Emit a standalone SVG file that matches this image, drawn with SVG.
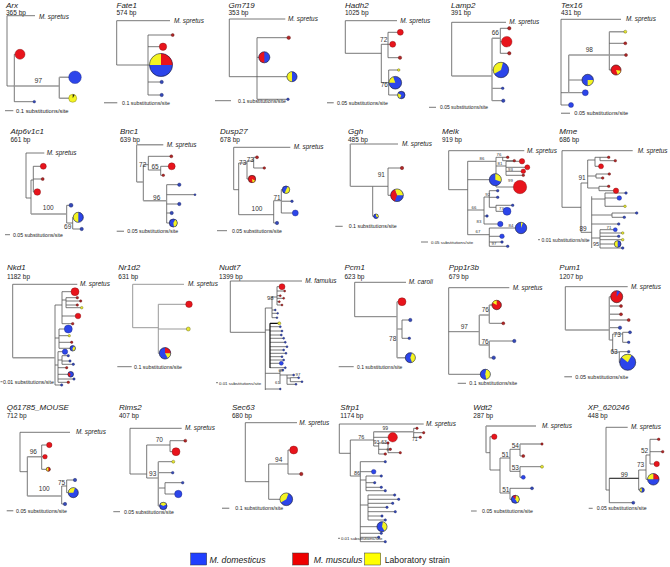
<svg xmlns="http://www.w3.org/2000/svg" width="670" height="567" viewBox="0 0 670 567">
<style>
text{font-family:"Liberation Sans",Arial,sans-serif;fill:#222}
.ti{font-size:8px;font-style:italic}
.bp{font-size:6.5px}
.sp{font-size:6.4px;font-style:italic}
.bs{font-size:6.5px;text-anchor:middle;fill:#333}
.bt{font-size:4.3px;text-anchor:middle;fill:#333}
.sc{font-size:5.3px}
.ln{fill:none;stroke:#555;stroke-width:.8}
.lg{fill:none;stroke:#999;stroke-width:1.4}
.R{fill:#e8141c;stroke:#7a1010;stroke-width:.4}
.B{fill:#2c45ea;stroke:#1a237a;stroke-width:.4}
.Y{fill:#f4f422;stroke:#6a6a10;stroke-width:.4}
.r{fill:#b02626;stroke:#5a1010;stroke-width:.4}
.b{fill:#3448b8;stroke:#1a2460;stroke-width:.4}
.y{fill:#e8e830;stroke:#555510;stroke-width:.4}
.wy{fill:#f4f422}.wr{fill:#e8141c}.wb{fill:#2c45ea}.wk{fill:#222}
.o{fill:none;stroke:#222;stroke-width:.4}
.lt{font-size:8.7px}
</style>

<!-- Row 1 -->
<g id="arx">
<text class="ti" x="6" y="8">Arx</text><text class="bp" x="6" y="15">365 bp</text>
<path class="ln" d="M7,15.7V86M7,15.7H35M7,86H14.3M14.3,54.3V101.7M14.3,54.3H20M14.3,101.7H34"/>
<path class="lg" d="M14.3,86H59.3M59.3,77.3V98.3M59.3,77.3H75M59.3,98.3H72.7"/>
<text class="sp" x="39" y="18.5">M. spretus</text>
<text class="bs" x="38.3" y="82.5" style="font-size:7px">97</text>
<circle class="R" cx="20" cy="54.3" r="5"/><circle class="b" cx="34.3" cy="101.7" r="1.3"/>
<circle class="B" cx="75" cy="77.3" r="6.3"/>
<circle class="Y" cx="72.7" cy="98.3" r="4"/><path class="wk" d="M72.7,98.3L72.7,94.3A4 4 0 0 1 74.7,94.84Z"/>
<path class="ln" d="M5,110.7H13.3"/><text class="sc" x="16" y="112.5" style="font-size:5.8px">0.1 substitutions/site</text>
</g>

<g id="fate1">
<text class="ti" x="116.5" y="7.5">Fate1</text><text class="bp" x="116.5" y="15">574 bp</text>
<path class="ln" d="M116.7,20.7V65M116.7,20.7H170M116.7,65H148M148,35V95M148,35H172.7M148,46.7H163M148,65H161M148,82H161.7M148,95H161.7"/>
<text class="sp" x="174" y="22.5">M. spretus</text>
<circle class="r" cx="172.7" cy="35" r="1.5"/><circle class="R" cx="163" cy="46.7" r="3.7"/>
<circle class="B" cx="161" cy="65" r="11.5"/>
<path class="wr" d="M161,65L161,53.5A11.5 11.5 0 0 1 172.5,65Z"/><path class="wy" d="M161,65L149.5,65A11.5 11.5 0 0 1 161,53.5Z"/>
<circle class="o" cx="161" cy="65" r="11.5"/>
<circle class="b" cx="161.7" cy="82" r="1.7"/><circle class="b" cx="161.7" cy="95" r="1.7"/>
<path class="lg" d="M104,102.7H117.3"/><text class="sc" x="122" y="104.5">0.1 substitutions/site</text>
</g>

<g id="gm719">
<text class="ti" x="228.5" y="7.5">Gm719</text><text class="bp" x="228.5" y="15">353 bp</text>
<path class="ln" d="M229.3,19V76.7M229.3,19H285.3M229.3,76.7H292M257,37.7V99.3M257,37.7H288.7M257,57.3H264.3M257,99.3H288"/>
<text class="sp" x="288" y="21">M. spretus</text>
<circle class="r" cx="288.7" cy="37.7" r="1.8"/>
<circle class="B" cx="264.3" cy="57.3" r="5.5"/><path class="wr" d="M264.3,57.3L264.3,62.8A5.5 5.5 0 0 1 264.3,51.8Z"/><circle class="o" cx="264.3" cy="57.3" r="5.5"/>
<circle class="B" cx="292" cy="76.7" r="5"/><path class="wy" d="M292,76.7L292,81.7A5 5 0 0 1 292,71.7Z"/><circle class="o" cx="292" cy="76.7" r="5"/>
<circle class="b" cx="288" cy="99.3" r="1.3"/>
<path class="ln" d="M215,100.7H231"/><text class="sc" x="238" y="102.5">0.1 substitutions/site</text>
</g>

<g id="hadh2">
<text class="ti" x="345" y="7.5">Hadh2</text><text class="bp" x="345" y="15">1025 bp</text>
<path class="ln" d="M345.3,20.7V53.3M345.3,20.7H397M345.3,53.3H381.3M381.3,44.3V82.7M381.3,44.3H388M388,32.3V57.7M388,32.3H400.3M388,44.3H392.7M388,57.7H400M381.3,82.7H388.7M388.7,70V95M388.7,70H398.7M388.7,82.7H395.3M388.7,95H401.3"/>
<text class="sp" x="400.3" y="22.5">M. spretus</text>
<text class="bs" x="383.7" y="41.5">72</text><text class="bs" x="384.3" y="86.5">76</text>
<circle class="R" cx="400.3" cy="32.3" r="3"/><circle class="R" cx="392.7" cy="44.3" r="3"/><circle class="r" cx="400" cy="57.7" r="1.7"/>
<circle class="y" cx="398.7" cy="70" r="1.3"/>
<circle class="B" cx="395.3" cy="82.7" r="6.3"/><path class="wy" d="M395.3,82.7L389,82.7A6.3 6.3 0 0 1 393.15,76.78Z"/><circle class="o" cx="395.3" cy="82.7" r="6.3"/>
<circle class="B" cx="401.3" cy="95" r="3.7"/><path class="wy" d="M401.3,95L400.03,98.48A3.7 3.7 0 0 1 398.1,93.15Z"/><circle class="o" cx="401.3" cy="95" r="3.7"/>
<path class="lg" d="M327,102.7H333.7"/><text class="sc" x="337" y="104.5">0.05 substitutions/site</text>
</g>

<g id="lamp2">
<text class="ti" x="451" y="7.5">Lamp2</text><text class="bp" x="451" y="15">391 bp</text>
<path class="ln" d="M451.7,22.3V76M451.7,22.3H506M500.3,28.3V53.3M500.3,28.3H509.3M500.3,41.7H506.7M500.3,53.3H509.3M492,88.3H502.7M492,100.7H503.3"/>
<path class="lg" d="M451.7,76H492M492,38.3V100.7M492,38.3H500.3M492,70H501"/>
<text class="sp" x="509.3" y="24">M. spretus</text>
<text class="bs" x="495.3" y="35">66</text>
<circle class="r" cx="509.3" cy="28.3" r="1.7"/><circle class="R" cx="506.7" cy="41.7" r="5.3"/><circle class="r" cx="509.3" cy="53.3" r="1.7"/>
<circle class="B" cx="501" cy="70" r="7.7"/><path class="wy" d="M501,70L494.33,73.85A7.7 7.7 0 0 1 502.99,62.56Z"/><circle class="o" cx="501" cy="70" r="7.7"/>
<circle class="b" cx="502.7" cy="88.3" r="1.3"/><circle class="b" cx="503.3" cy="100.7" r="1.7"/>
<path class="ln" d="M429,107.3H436"/><text class="sc" x="440" y="109" style="font-size:5px">0.05 substitutions/site</text>
</g>

<g id="tex16">
<text class="ti" x="561" y="7.5">Tex16</text><text class="bp" x="561" y="15">431 bp</text>
<path class="ln" d="M561,19.3V105M561,19.3H621M561,105H571M561,92.7H568.7M568.7,92.7H585.3M568.7,80H587.7M609.3,31.7V70M609.3,43.3H625.3M609.3,70H616"/>
<path class="lg" d="M568.7,55V92.7M568.7,55H626M609.3,31.7H625.3"/>
<text class="sp" x="626" y="21">M. spretus</text>
<text class="bs" x="589.3" y="52">98</text>
<circle class="B" cx="571" cy="105" r="2.5"/><circle class="B" cx="585.3" cy="92.7" r="3"/>
<circle class="B" cx="587.7" cy="80" r="5.7"/><path class="wy" d="M587.7,80L593.4,80A5.7 5.7 0 0 1 587.7,85.7Z"/><circle class="o" cx="587.7" cy="80" r="5.7"/>
<circle class="r" cx="626" cy="55" r="1.5"/><circle class="y" cx="625.3" cy="31.7" r="1.5"/><circle class="r" cx="625.3" cy="43.3" r="1.5"/>
<circle class="R" cx="616" cy="70" r="5"/><path class="wy" d="M616,70L620.92,70.87A5 5 0 0 1 617.71,74.7Z"/><circle class="o" cx="616" cy="70" r="5"/>
<path class="lg" d="M561,113.3H570"/><text class="sc" x="574.3" y="115" style="font-size:5.6px">0.05 substitutions/site</text>
</g>

<!-- Row 2 -->
<g id="atp6v1c1">
<text class="ti" x="10.5" y="133.5">Atp6v1c1</text><text class="bp" x="10.5" y="142">661 bp</text>
<path class="ln" d="M26,153V198M26,153H44.3M26,198H31M31,180V214M31,180H33.3M33.3,166.3V192M33.3,166.3H43.3M33.3,179H42.7M33.3,192H37.3M66.7,205.3V223M66.7,205.3H71M66.7,223H72.7M72.7,217.3V229M72.7,217.3H78.3M72.7,229H81.7"/>
<path class="lg" d="M31,214H66.7"/>
<text class="sp" x="46.7" y="155">M. spretus</text>
<text class="bs" x="48.3" y="210">100</text><text class="bs" x="67.7" y="228.5">69</text>
<circle class="R" cx="43.3" cy="166.3" r="3"/><circle class="r" cx="42.7" cy="179" r="1.5"/><circle class="R" cx="37.3" cy="192" r="3.3"/>
<circle class="b" cx="71" cy="205.3" r="2"/>
<circle class="B" cx="78.3" cy="217.3" r="5"/><path class="wy" d="M78.3,217.3L78.3,222.3A5 5 0 0 1 78.3,212.3Z"/><circle class="o" cx="78.3" cy="217.3" r="5"/>
<circle class="b" cx="81.7" cy="229" r="1.7"/>
<path class="ln" d="M5,234.7H10"/><text class="sc" x="13" y="236.5" style="font-size:5.2px">0.05 substitutions/site</text>
</g>

<g id="bnc1">
<text class="ti" x="120" y="133.5">Bnc1</text><text class="bp" x="120" y="142">639 bp</text>
<path class="ln" d="M136.7,144.7V182M143.3,164.7V200.7M143.3,164.7H148.3M148.3,156.3V170M148.3,156.3H171.3M148.3,170H160.7M160.7,166.3V175.3M160.7,166.3H171.7M160.7,175.3H163.3M166.7,184.7V223M166.7,184.7H179.3M166.7,194.7H195M166.7,204H179.3M166.7,213H171.7M166.7,223H173.3"/>
<path class="lg" d="M136.7,144.7H163.3M136.7,182H143.3M143.3,200.7H166.7"/>
<text class="sp" x="166.7" y="146.5">M. spretus</text>
<text class="bs" x="142.7" y="167">72</text><text class="bs" x="155" y="168.5">65</text><text class="bs" x="156.7" y="200">96</text>
<circle class="r" cx="171.3" cy="156.3" r="1.5"/><circle class="R" cx="171.7" cy="166.3" r="3.5"/><circle class="r" cx="163.3" cy="175.3" r="1.3"/>
<circle class="b" cx="179.3" cy="184.7" r="1.7"/><circle class="b" cx="195" cy="194.7" r="1"/><circle class="b" cx="179.3" cy="204" r="1.7"/><circle class="b" cx="171.7" cy="213" r="1.7"/>
<circle class="B" cx="173.3" cy="223" r="4"/><path class="wy" d="M173.3,223L175.3,219.54A4 4 0 0 1 174,226.94Z"/><circle class="o" cx="173.3" cy="223" r="4"/>
<path class="lg" d="M116.7,231.3H124"/><text class="sc" x="127.3" y="233">0.05 substitutions/site</text>
</g>

<g id="dusp27">
<text class="ti" x="220" y="133.5">Dusp27</text><text class="bp" x="220" y="142">678 bp</text>
<path class="ln" d="M233.7,147.3V189.7M233.7,147.3H290.3M233.7,189.7H238.7M238.7,163V214.7M238.7,163H247M247,161V179M247,161H253.7M253.7,157.3V168M253.7,157.3H257M253.7,168H264.3M247,179H252M238.7,214.7H273.7M273.7,200.7V223M273.7,200.7H281.3M281.3,189.7V213M281.3,189.7H286M281.3,213H295.3M273.7,223H277"/>
<path class="lg" d="M281.3,201.3H292"/>
<text class="sp" x="293.7" y="149">M. spretus</text>
<text class="bs" x="242.7" y="165">73</text><text class="bs" x="250.3" y="161.5">73</text><text class="bs" x="257" y="210.5">100</text><text class="bs" x="277" y="200">71</text>
<circle class="r" cx="257" cy="157.3" r="1.5"/><circle class="r" cx="264.3" cy="168" r="1.3"/>
<circle class="R" cx="252" cy="179" r="3.7"/><path class="wy" d="M252,179L255.2,180.85A3.7 3.7 0 0 1 252.64,182.64Z"/><circle class="o" cx="252" cy="179" r="3.7"/>
<circle class="B" cx="286" cy="189.7" r="3.7"/><path class="wy" d="M286,189.7L287.85,186.5A3.7 3.7 0 0 1 284.73,193.18Z"/><circle class="o" cx="286" cy="189.7" r="3.7"/>
<circle class="b" cx="292" cy="201.3" r="1.3"/><circle class="B" cx="295.3" cy="213" r="3"/><circle class="b" cx="277" cy="223" r="1.7"/>
<path class="ln" d="M217,230.7H227"/><text class="sc" x="232" y="232.5" style="font-size:5.2px">0.05 substitutions/site</text>
</g>

<g id="ggh">
<text class="ti" x="348" y="133.5">Ggh</text><text class="bp" x="348" y="142">485 bp</text>
<path class="ln" d="M350.3,144H398M350.3,186.3H372.7M372.7,186.3V216.3M372.7,186.3H388M388,168V195.3M388,168H402M388,195.3H397M372.7,216.3H376"/>
<path class="lg" d="M350.3,144V186.3"/>
<text class="sp" x="402" y="146">M. spretus</text>
<text class="bs" x="381.3" y="177">91</text>
<circle class="r" cx="402" cy="168" r="1.7"/>
<circle class="B" cx="397" cy="195.3" r="6.3"/><path class="wy" d="M397,195.3L394.85,189.38A6.3 6.3 0 0 1 403.3,195.3Z"/><path class="wr" d="M397,195.3L394.85,201.22A6.3 6.3 0 0 1 394.85,189.38Z"/><circle class="o" cx="397" cy="195.3" r="6.3"/>
<circle class="B" cx="376" cy="216.3" r="2.3"/><path class="wy" d="M376,216.3L376,214A2.3 2.3 0 0 1 377.99,217.45Z"/><circle class="o" cx="376" cy="216.3" r="2.3"/>
<path class="ln" d="M335.3,226.3H342.7"/><text class="sc" x="348.7" y="228">0.1 substitutions/site</text>
</g>

<g id="melk">
<text class="ti" x="442" y="133.5">Melk</text><text class="bp" x="442" y="142">919 bp</text>
<path class="ln" d="M448.7,150.7V189.7M448.7,150.7H524.3M448.7,189.7H467.7M467.7,161.3V234.7M467.7,161.3H496M496,157.3V187M496,157.3H507.7M502.7,157.3V160.7H514.3M496,166H506M506,161.3V175.3M506,161.3H522M506,167.3H527.3M506,171.3H523.3M506,175.3H523.3M496,187H520M467.7,179.7H495.3M467.7,210H484M484,197V224M484,197H489.3M489.3,190.7V207.3M489.3,190.7H497.7M489.3,197.3H497.7M489.3,207.3H496M496,205.3V211.3M496,205.3H512.7M496,211.3H507M484,216H487M484,224H500.3M467.7,234.7H489.3M489.3,228V246.3M489.3,228H521M489.3,236.3H502M489.3,242H502M489.3,246.3H507.7"/>
<text class="sp" x="527" y="152.5">M. spretus</text>
<text class="bt" x="482" y="160">86</text><text class="bt" x="499" y="156">76</text><text class="bt" x="500" y="165">81</text><text class="bt" x="510.5" y="170.5">93</text><text class="bt" x="510.5" y="182">99</text>
<text class="bt" x="487.7" y="196">92</text><text class="bt" x="474" y="209">66</text><text class="bt" x="501.5" y="210">73</text><text class="bt" x="479" y="223">83</text><text class="bt" x="478" y="233">67</text><text class="bt" x="511" y="227">84</text><text class="bt" x="494" y="245">97</text>
<circle class="r" cx="507.7" cy="157.3" r="1.3"/><circle class="r" cx="514.3" cy="160.7" r="1.3"/>
<circle class="R" cx="522" cy="161.3" r="2.7"/><circle class="R" cx="527.3" cy="167.3" r="2.5"/><circle class="R" cx="523.3" cy="171.3" r="2.3"/><circle class="r" cx="523.3" cy="175.3" r="1.3"/>
<circle class="R" cx="520" cy="187" r="6.7"/>
<circle class="B" cx="495.3" cy="179.7" r="6"/><path class="wy" d="M495.3,179.7L495.3,173.7A6 6 0 0 1 500.94,181.75Z"/><circle class="o" cx="495.3" cy="179.7" r="6"/>
<circle class="b" cx="497.7" cy="190.7" r="1.3"/><circle class="b" cx="497.7" cy="197.3" r="1.3"/><circle class="b" cx="512.7" cy="205.3" r="1.3"/>
<circle class="B" cx="507" cy="211.3" r="4"/><circle class="b" cx="487" cy="216" r="1.3"/><circle class="B" cx="500.3" cy="224" r="2.7"/>
<circle class="B" cx="521" cy="228" r="5.7"/><path class="wy" d="M521,228L521,222.3A5.7 5.7 0 0 1 522.95,222.64Z"/><circle class="o" cx="521" cy="228" r="5.7"/>
<circle class="B" cx="502" cy="236.3" r="2.3"/><circle class="b" cx="502" cy="242" r="1.3"/><circle class="b" cx="507.7" cy="246.3" r="1.3"/>
<path class="ln" d="M421,242H428"/><text class="sc" x="431" y="243.8" style="font-size:4.4px">0.05 substitutions/site</text>
</g>

<g id="mme">
<text class="ti" x="559.3" y="133.5">Mme</text><text class="bp" x="559.3" y="142">686 bp</text>
<path class="ln" d="M562,150.7V207.3M562,150.7H632.7M562,207.3H581M581,183V232.3M581,183H587.7M587.7,160V188M587.7,160H595M595,157.3V166.3M595,157.3H608.7M600,157.3V160.7H615.3M595,166.3H601M587.7,176H596M596,174V178M596,174H609.3M596,178H602.7M587.7,188H599M599,186.3V190.7M599,186.3H608.7M599,190.7H616M581,232.3H591.7M591.7,196.3V248M591.7,199H605M605,193V206.3M605,193H626M605,198H619.3M605,206.3H625M591.7,215H612M612,213V217.3M612,213H636.7M612,217.3H624.3M591.7,224H618.7M591.7,238H600M600,229.7V248M600,229.7H615.3M600,233H622.7M600,236.3H618.7M600,239.7H622.7M600,244H617.7M600,248H622.7"/>
<text class="sp" x="637.7" y="152.5">M. spretus</text>
<text class="bs" x="582" y="179.5">91</text><text class="bs" x="583" y="230.5">89</text><text class="bs" x="596" y="245.5" style="font-size:5.5px">95</text><text class="bt" x="609" y="228.5">71</text>
<circle class="r" cx="608.7" cy="157.3" r="1.3"/><circle class="r" cx="615.3" cy="160.7" r="1.3"/><circle class="R" cx="601" cy="166.3" r="2.5"/>
<circle class="r" cx="609.3" cy="174" r="1.3"/><circle class="r" cx="602.7" cy="178" r="1.3"/><circle class="r" cx="608.7" cy="186.3" r="1.3"/><circle class="R" cx="616" cy="190.7" r="2.7"/>
<circle class="b" cx="626" cy="193" r="1.3"/><circle class="B" cx="619.3" cy="198" r="2.3"/><circle class="y" cx="625" cy="206.3" r="1.3"/>
<circle class="b" cx="636.7" cy="213" r="1.3"/><circle class="b" cx="624.3" cy="217.3" r="1.3"/><circle class="b" cx="618.7" cy="224" r="1.3"/>
<circle class="B" cx="615.3" cy="229.7" r="2"/><circle class="y" cx="622.7" cy="233" r="1.3"/><circle class="b" cx="618.7" cy="236.3" r="1.3"/><circle class="y" cx="622.7" cy="239.7" r="1.3"/>
<circle class="B" cx="617.7" cy="244" r="3.3"/><path class="wy" d="M617.7,244L617.7,247.3A3.3 3.3 0 0 1 617.7,240.7Z"/><circle class="o" cx="617.7" cy="244" r="3.3"/>
<circle class="b" cx="622.7" cy="248" r="1.3"/>
<path class="ln" d="M538,239.7H540"/><text class="sc" x="541.5" y="241.5" style="font-size:5px">0.01 substitutions/site</text>
</g>

<!-- Row 3 -->
<g id="nkd1">
<text class="ti" x="7" y="270">Nkd1</text><text class="bp" x="7" y="279">1182 bp</text>
<path class="ln" d="M12.7,284.3V357.7M12.7,284.3H77.3M55,305V385M55,305H62M62,291.7V323.7M62,291.7H75M62,300H66M66,297.7V307.7M66,297.7H77.3M66,301H80.7M66,305H77.3M66,307.7H81.7M62,316H78M62,323.7H72.7M55,338H59M59,329V348.3M59,329H68.3M59,335.7H69.3M59,342.3H71.7M59,348.3H72.7M55,365H58M58,351.7V382.3M58,351.7H65M58,360H62M62,355.7V364.3M62,355.7H68.3M62,361H70M62,364.3H73.3M58,367.7H66.7M58,374.3H70.7M58,379H74M58,382.3H68.3M55,385H61.7"/>
<path class="lg" d="M12.7,357.7H55"/>
<text class="sp" x="80" y="286">M. spretus</text>
<circle class="R" cx="75" cy="291.7" r="4"/><circle class="r" cx="77.3" cy="297.7" r="1.3"/><circle class="r" cx="80.7" cy="301" r="1.2"/><circle class="r" cx="77.3" cy="305" r="1.2"/><circle class="y" cx="81.7" cy="307.7" r="1.3"/>
<circle class="R" cx="78" cy="316" r="2.8"/><circle class="r" cx="72.7" cy="323.7" r="1.3"/>
<circle class="B" cx="68.3" cy="329" r="4"/><circle class="y" cx="69.3" cy="335.7" r="1.2"/><circle class="r" cx="71.7" cy="342.3" r="1.2"/>
<circle class="B" cx="72.7" cy="348.3" r="2.7"/><path class="wy" d="M72.7,348.3L74.05,345.96A2.7 2.7 0 0 1 72.7,351Z"/><circle class="o" cx="72.7" cy="348.3" r="2.7"/>
<circle class="B" cx="65" cy="351.7" r="2.7"/><circle class="b" cx="68.3" cy="355.7" r="1.2"/><circle class="b" cx="70" cy="361" r="1.2"/><circle class="b" cx="73.3" cy="364.3" r="1.2"/>
<circle class="r" cx="66.7" cy="367.7" r="1.2"/>
<circle class="B" cx="70.7" cy="374.3" r="2.8"/><path class="wr" d="M70.7,374.3L69.74,376.93A2.8 2.8 0 0 1 68.9,372.15Z"/><circle class="o" cx="70.7" cy="374.3" r="2.8"/>
<circle class="b" cx="74" cy="379" r="1.2"/><circle class="r" cx="68.3" cy="382.3" r="1.3"/><circle class="b" cx="61.7" cy="385" r="1.2"/>
<path class="ln" d="M0.5,381.7H2.5"/><text class="sc" x="3" y="383.5">0.01 substitutions/site</text>
</g>

<g id="nr1d2">
<text class="ti" x="118.3" y="270">Nr1d2</text><text class="bp" x="118.3" y="279">631 bp</text>
<path class="lg" d="M132.7,284.3V327.7M132.7,284.3H184M132.7,327.7H158.3M158.3,304.3V353.3M158.3,304.3H189M158.3,329H188.3M158.3,353.3H165" style="stroke-width:1"/>
<text class="sp" x="188" y="286">M. spretus</text>
<circle class="R" cx="189" cy="304.3" r="3.3"/><circle class="y" cx="188.3" cy="329" r="2"/>
<circle class="B" cx="165" cy="353.3" r="5.7"/><path class="wr" d="M165,353.3L165,347.6A5.7 5.7 0 0 1 170.7,353.3Z"/><path class="wy" d="M165,353.3L170.7,353.3A5.7 5.7 0 0 1 167.85,358.24Z"/><circle class="o" cx="165" cy="353.3" r="5.7"/>
<path class="ln" d="M117.3,366.7H131.7"/><text class="sc" x="134" y="368.5">0.1 substitutions/site</text>
</g>

<g id="nudt7">
<text class="ti" x="219" y="270">Nudt7</text><text class="bp" x="219" y="279">1399 bp</text>
<path class="ln" d="M230.3,281V332.3M230.3,281H302M230.3,332.3H265.3M265.3,308V390M265.3,308H272M272,297V317.7M272,297H277M277,286.7V305M277,286.7H282M277,291H284.7M277,295.7H280.3M277,298.3H283.7M277,301.7H279.3M277,305H282M272,310H275.3M272,313.3H277.7M272,317.7H277M265.3,330H270M270,326.7H280.3M270,331H282M270,335H281.3M270,338.3H283.7M270,342.3H285.3M270,346.7H287M270,350H283.7M270,353.3H286M270,356.7H282M270,360H283.7M270,363.3H281.3M270,367.7H285.3M265.3,373.3H280M280,370V384M280,375H287M287,375V384.3M287,375H293.7M287,378H290.3M290.3,377.7V381.7M290.3,377.7H298.7M290.3,381.7H302M287,384.3H296M280,370H283M265.3,389H280.3"/>
<path class="ln" d="M270,323.3V368M270,323.3H279.3" style="stroke:#111;stroke-width:1.2"/>
<text class="sp" x="305.3" y="283">M. famulus</text>
<text class="bs" x="270.3" y="300.3" style="font-size:6px">98</text><text class="bt" x="281" y="371.5">68</text><text class="bt" x="277.5" y="383.5">61</text><text class="bt" x="298" y="376">97</text>
<circle class="R" cx="282" cy="286.7" r="3"/><circle class="r" cx="284.7" cy="291" r="1"/><circle class="r" cx="280.3" cy="295.7" r="1"/><circle class="r" cx="283.7" cy="298.3" r="1"/><circle class="r" cx="279.3" cy="301.7" r="1"/><circle class="r" cx="282" cy="305" r="1"/>
<circle class="b" cx="275.3" cy="310" r="0.9"/><circle class="b" cx="277.7" cy="313.3" r="0.9"/><circle class="b" cx="277" cy="317.7" r="0.9"/>
<circle class="y" cx="279.3" cy="323.3" r="1.5"/>
<circle class="b" cx="280.3" cy="326.7" r="1"/><circle class="b" cx="282" cy="331" r="1"/><circle class="b" cx="281.3" cy="335" r="1"/><circle class="b" cx="283.7" cy="338.3" r="1"/><circle class="b" cx="285.3" cy="342.3" r="1"/><circle class="b" cx="287" cy="346.7" r="1"/><circle class="b" cx="283.7" cy="350" r="1"/><circle class="b" cx="286" cy="353.3" r="1"/><circle class="b" cx="282" cy="356.7" r="1"/><circle class="b" cx="283.7" cy="360" r="1"/><circle class="B" cx="281.3" cy="363.3" r="2"/><circle class="b" cx="285.3" cy="367.7" r="1"/>
<circle class="b" cx="283" cy="370" r="0.9"/><circle class="b" cx="293.7" cy="375" r="1"/><circle class="b" cx="298.7" cy="377.7" r="1"/><circle class="b" cx="302" cy="381.7" r="1"/><circle class="b" cx="296" cy="384.3" r="1"/><circle class="b" cx="280.3" cy="389" r="0.9"/>
<path class="ln" d="M216,382.7H218"/><text class="sc" x="219" y="384.5" style="font-size:4.4px">0.01 substitutions/site</text>
</g>

<g id="pcm1">
<text class="ti" x="344.5" y="270">Pcm1</text><text class="bp" x="344.5" y="279">623 bp</text>
<path class="ln" d="M354.7,282.3V316.7M354.7,282.3H406M354.7,316.7H397M397,329H402M402,320V338.3M402,320H410.3M402,338.3H409.3"/>
<path class="lg" d="M397,301.7V357.7M397,301.7H402M397,357.7H410.3"/>
<text class="sp" x="408.7" y="284">M. caroli</text>
<text class="bs" x="392.7" y="341">78</text>
<circle class="R" cx="402" cy="301.7" r="4"/><circle class="b" cx="410.3" cy="320" r="1.7"/><circle class="b" cx="409.3" cy="338.3" r="1.3"/>
<circle class="B" cx="410.3" cy="357.7" r="5"/><path class="wy" d="M410.3,357.7L412.01,353A5 5 0 0 1 412.01,362.4Z"/><circle class="o" cx="410.3" cy="357.7" r="5"/>
<path class="ln" d="M338.7,366.7H353.7"/><text class="sc" x="357" y="368.5" style="font-size:5px">0.1 substitutions/site</text>
</g>

<g id="ppp1r3b">
<text class="ti" x="448.7" y="270">Ppp1r3b</text><text class="bp" x="448.7" y="279">679 bp</text>
<path class="ln" d="M448.7,287.7V374.3M448.7,287.7H509.3M448.7,331.7H479.3M489.3,323.3H503.3M489.3,341H514.3M448.7,374.3H485.3"/>
<path class="lg" d="M479.3,315V345M479.3,315H489.3M489.3,305V323.3M489.3,305H496.7M479.3,345H489.3M489.3,341V357.7M489.3,357.7H493.7"/>
<text class="sp" x="512.7" y="289.5">M. spretus</text>
<text class="bs" x="464.3" y="329.3">97</text><text class="bs" x="485.3" y="312.3">76</text><text class="bs" x="485" y="344">76</text>
<circle class="R" cx="496.7" cy="305" r="4.7"/><path class="wy" d="M496.7,305L492.63,302.65A4.7 4.7 0 0 1 496.7,300.3Z"/><circle class="o" cx="496.7" cy="305" r="4.7"/>
<circle class="r" cx="503.3" cy="323.3" r="1.5"/><circle class="b" cx="514.3" cy="341" r="1.7"/><circle class="b" cx="493.7" cy="357.7" r="1.8"/>
<circle class="B" cx="485.3" cy="374.3" r="5"/><path class="wy" d="M485.3,374.3L486.17,369.38A5 5 0 0 1 486.17,379.22Z"/><circle class="o" cx="485.3" cy="374.3" r="5"/>
<path class="ln" d="M457.7,383.3H466"/><text class="sc" x="469.3" y="385">0.1 substitutions/site</text>
</g>

<g id="pum1">
<text class="ti" x="559.3" y="270">Pum1</text><text class="bp" x="559.3" y="279">1207 bp</text>
<path class="ln" d="M565.3,286.7V330M565.3,286.7H627.7M609.3,296.7H616.7M609.3,327.7H620M609.3,340H612.7M612.7,334V352M612.7,334H622.7M622.7,332.3V342.3M622.7,332.3H630M622.7,342.3H628.7M612.7,352H619.3M619.3,351.7V362.3M619.3,351.7H628.7M619.3,362.3H627.7"/>
<path class="lg" d="M565.3,330H609.3M609.3,296.7V340M609.3,306H621M609.3,314.3H621M609.3,320H628.7"/>
<text class="sp" x="631" y="288.5">M. spretus</text>
<text class="bs" x="617.2" y="336.5">73</text><text class="bs" x="614" y="353.5">63</text>
<circle class="R" cx="616.7" cy="296.7" r="6"/><path class="wb" d="M616.7,296.7L616.7,290.7A6 6 0 0 1 620.14,291.79Z"/><circle class="o" cx="616.7" cy="296.7" r="6"/>
<circle class="r" cx="621" cy="306" r="1.5"/><circle class="r" cx="621" cy="314.3" r="1.5"/><circle class="r" cx="628.7" cy="320" r="1.5"/><circle class="b" cx="620" cy="327.7" r="1.7"/>
<circle class="b" cx="630" cy="332.3" r="1.5"/><circle class="b" cx="628.7" cy="342.3" r="1.3"/><circle class="b" cx="628.7" cy="351.7" r="1.3"/>
<circle class="B" cx="627.7" cy="362.3" r="8"/><path class="wy" d="M627.7,362.3L621.57,357.16A8 8 0 0 1 631.7,355.37Z"/><circle class="o" cx="627.7" cy="362.3" r="8"/>
<path class="lg" d="M564.3,376.7H572"/><text class="sc" x="575.3" y="378.5" style="font-size:5.5px">0.05 substitutions/site</text>
</g>

<!-- Row 4 -->
<g id="q61785">
<text class="ti" x="6.7" y="409.5">Q61785_MOUSE</text><text class="bp" x="6.7" y="418">712 bp</text>
<path class="ln" d="M20,432.3V471.7M20,432.3H70M20,471.7H27.3M27.3,456.7V496M41.7,445V469.3M41.7,445H49.3M41.7,456.7H45M41.7,469.3H48.3M61.7,486V504M61.7,486H66.7M66.7,480V492.7M66.7,480H75M66.7,492.7H73.3M61.7,504H65"/>
<path class="lg" d="M27.3,456.7H41.7M27.3,496H61.7"/>
<text class="sp" x="76" y="434">M. spretus</text>
<text class="bs" x="33.3" y="454">96</text><text class="bs" x="44.3" y="490.5">100</text><text class="bs" x="61.5" y="485">75</text>
<circle class="R" cx="49.3" cy="445" r="2.7"/><circle class="R" cx="45" cy="456.7" r="2.3"/>
<circle class="R" cx="48.3" cy="469.3" r="2"/><path class="wy" d="M48.3,469.3L48.3,471.3A2 2 0 0 1 48.3,467.3Z"/><circle class="o" cx="48.3" cy="469.3" r="2"/>
<circle class="b" cx="75" cy="480" r="1.7"/>
<circle class="B" cx="73.3" cy="492.7" r="5"/><path class="wy" d="M73.3,492.7L68.3,492.7A5 5 0 0 1 75.01,488Z"/><circle class="o" cx="73.3" cy="492.7" r="5"/>
<circle class="b" cx="65" cy="504" r="1.7"/>
<path class="lg" d="M6.7,510.7H13.3"/><text class="sc" x="16" y="512.5">0.05 substitutions/site</text>
</g>

<g id="rims2">
<text class="ti" x="119" y="409.5">Rims2</text><text class="bp" x="119" y="418">407 bp</text>
<path class="ln" d="M130,428.3V474M130,428.3H181.7M130,474H146.7M146.7,445V478M146.7,445H170M170,440.7V451.7M170,440.7H185.3M170,451.7H176M146.7,478H158.3M158.3,461.7H173.3M158.3,472.7H172.7M158.3,488H165M165,482.7V494M165,482.7H182.7M165,494H178.3"/>
<path class="lg" d="M158.3,461.7V506M158.3,506H163.3"/>
<text class="sp" x="185" y="430">M. spretus</text>
<text class="bs" x="159.3" y="441.5">70</text><text class="bs" x="152.7" y="475.5">93</text>
<circle class="r" cx="185.3" cy="440.7" r="1.5"/><circle class="R" cx="176" cy="451.7" r="4"/>
<circle class="y" cx="173.3" cy="461.7" r="1.5"/><circle class="b" cx="172.7" cy="472.7" r="1.3"/><circle class="b" cx="182.7" cy="482.7" r="1.3"/><circle class="B" cx="178.3" cy="494" r="3.7"/>
<circle class="B" cx="163.3" cy="506" r="3.7"/><path class="wy" d="M163.3,506L160.1,504.15A3.7 3.7 0 0 1 166.5,504.15Z"/><circle class="o" cx="163.3" cy="506" r="3.7"/>
<path class="ln" d="M113.3,511.7H120"/><text class="sc" x="124" y="513.5" style="font-size:5.2px">0.05 substitutions/site</text>
</g>

<g id="sec63">
<text class="ti" x="232" y="409.5">Sec63</text><text class="bp" x="232" y="418">680 bp</text>
<path class="ln" d="M245.3,422.7V481.7M245.3,422.7H297M245.3,481.7H268.7M268.7,464V499.3M268.7,464H288M288,450V474M288,450H293.7M288,474H301.3M268.7,499.3H286.3"/>
<text class="sp" x="299.3" y="424.5">M. spretus</text>
<text class="bs" x="278.7" y="461.5">94</text>
<circle class="R" cx="293.7" cy="450" r="4"/><circle class="r" cx="301.3" cy="474" r="1.7"/>
<circle class="B" cx="286.3" cy="499.3" r="6.3"/><path class="wy" d="M286.3,499.3L280.84,502.45A6.3 6.3 0 0 1 288.45,493.38Z"/><circle class="o" cx="286.3" cy="499.3" r="6.3"/>
<path class="lg" d="M222,508.3H229.3"/><text class="sc" x="235.3" y="510">0.1 substitutions/site</text>
</g>

<g id="sfrp1">
<text class="ti" x="340.3" y="409.5">Sfrp1</text><text class="bp" x="340.3" y="418">1174 bp</text>
<path class="ln" d="M339.3,424V453.3M339.3,424H423.7M339.3,453.3H350.3M350.3,440V476M350.3,440H373.7M373.7,431.7V446M413.7,428.3V437.3M413.7,428.3H417M413.7,432.7H423.7M413.7,437.3H420.3M373.7,437.3H392.7M373.7,446H378.7M378.7,443V454M378.7,443H388M388,443V452.7M388,452.7H400.3M378.7,449.3H390.3M378.7,454H385.3M350.3,476H360.3M360.3,461.7V541.7M360.3,461.7H385.3M360.3,471.7H373.7M360.3,480H366M366,476V490.7M366,476H381.3M366,482.7H374.7M366,487.3H381.3M366,490.7H385.3M360.3,505H368M368,495V520M368,495H394.7M368,499.3H398.7M368,503.3H392.7M368,507.3H387M368,511.7H395.3M368,516H382M368,520H385.3M360.3,526.7H382M360.3,533.3H381.3M360.3,537.3H378.7M360.3,541.7H385.3"/>
<path class="lg" d="M373.7,431.7H413.7"/>
<text class="sp" x="426" y="426">M. spretus</text>
<text class="bt" x="385.3" y="430.3" style="font-size:5px">99</text><text class="bt" x="361.3" y="438.5" style="font-size:5.5px">76</text><text class="bt" x="376.5" y="444.3" style="font-size:5px">93</text><text class="bt" x="384" y="444.3" style="font-size:5px">63</text><text class="bt" x="414.7" y="441" style="font-size:5px">71</text><text class="bt" x="389" y="450.5">67</text><text class="bt" x="357" y="474.5" style="font-size:5.5px">86</text>
<circle class="r" cx="417" cy="428.3" r="1.2"/><circle class="r" cx="423.7" cy="432.7" r="1.2"/><circle class="r" cx="420.3" cy="437.3" r="1.2"/>
<circle class="R" cx="392.7" cy="437.3" r="4.7"/>
<circle class="r" cx="388" cy="443" r="1.2"/><circle class="r" cx="390.3" cy="449.3" r="1.2"/><circle class="r" cx="385.3" cy="454" r="1.3"/><circle class="r" cx="400.3" cy="452.7" r="1.2"/>
<circle class="b" cx="385.3" cy="461.7" r="1.2"/><circle class="B" cx="373.7" cy="471.7" r="2.3"/>
<circle class="b" cx="381.3" cy="476" r="1.2"/><circle class="b" cx="374.7" cy="482.7" r="1.2"/><circle class="b" cx="381.3" cy="487.3" r="1.2"/><circle class="b" cx="385.3" cy="490.7" r="1.2"/>
<circle class="b" cx="394.7" cy="495" r="1.2"/><circle class="b" cx="398.7" cy="499.3" r="1.2"/><circle class="b" cx="392.7" cy="503.3" r="1.2"/><circle class="b" cx="387" cy="507.3" r="1.2"/><circle class="b" cx="395.3" cy="511.7" r="1.2"/><circle class="b" cx="382" cy="516" r="1.2"/><circle class="b" cx="385.3" cy="520" r="1.2"/>
<circle class="B" cx="382" cy="526.7" r="5"/><path class="wy" d="M382,526.7L382.87,521.78A5 5 0 0 1 384.5,531.03Z"/><circle class="o" cx="382" cy="526.7" r="5"/>
<circle class="b" cx="381.3" cy="533.3" r="1.2"/><circle class="b" cx="378.7" cy="537.3" r="1.2"/><circle class="b" cx="385.3" cy="541.7" r="1.2"/>
<path class="ln" d="M338,538.3H340"/><text class="sc" x="341" y="540" style="font-size:4.3px">0.01 substitutions/site</text>
</g>

<g id="wdt2">
<text class="ti" x="473.3" y="409.5">Wdt2</text><text class="bp" x="473.3" y="418">287 bp</text>
<path class="ln" d="M486,452.7H490M490,436.7V470M490,436.7H494.3M490,470H500M500,458V493M500,458H510M510,449.3V471.3M510,449.3H520M520,444V456M520,456H523.3M510,471.3H520M520,466.7V477.3M520,466.7H542M520,477.3H523.3M500,493H510M510,488.3V499.3M510,488.3H532M510,499.3H515.3"/>
<path class="lg" d="M486,426V452.7M486,426H536M520,444H542"/>
<text class="sp" x="542" y="428">M. spretus</text>
<text class="bs" x="505.3" y="456.5">51</text><text class="bs" x="515.3" y="447.8">54</text><text class="bs" x="515.3" y="470.3">53</text><text class="bs" x="505.8" y="491.5">51</text>
<circle class="R" cx="494.3" cy="436.7" r="2.7"/><circle class="r" cx="542" cy="444" r="1.2"/><circle class="r" cx="523.3" cy="456" r="1.5"/>
<circle class="y" cx="542" cy="466.7" r="1.5"/><circle class="B" cx="523.3" cy="477.3" r="2"/><circle class="b" cx="532" cy="488.3" r="1.5"/>
<circle class="B" cx="515.3" cy="499.3" r="4"/><path class="wy" d="M515.3,499.3L516,495.36A4 4 0 0 1 517.3,502.76Z"/><path class="wr" d="M515.3,499.3L512.73,496.24A4 4 0 0 1 516,495.36Z"/><circle class="o" cx="515.3" cy="499.3" r="4"/>
<path class="ln" d="M471,511H476.7"/><text class="sc" x="482" y="512.5">0.05 substitutions/site</text>
</g>

<g id="xp620246">
<text class="ti" x="587.7" y="409.5">XP_620246</text><text class="bp" x="587.7" y="418">448 bp</text>
<path class="ln" d="M606,427.3V490M606,427.3H627.7M606,490H609.3M609.3,478.3V502.7M609.3,502.7H633.3M638.7,470V490M638.7,490H642M638.7,470H646M646,455V479.3M646,479.3H653.3M646,455H650M650,439.3V464M650,439.3H658.7M650,451.7H662.7M650,464H656.7"/>
<path class="ln" d="M609.3,478.3H638.7" style="stroke:#222;stroke-width:1.1"/>
<text class="sp" x="631" y="429">M. spretus</text>
<text class="bs" x="624.3" y="476.5">99</text><text class="bs" x="640.5" y="467">73</text><text class="bs" x="644.5" y="453">52</text>
<circle class="b" cx="633.3" cy="502.7" r="1.5"/>
<circle class="B" cx="642" cy="490" r="2.3"/><path class="wy" d="M642,490L641.21,492.16A2.3 2.3 0 0 1 641.21,487.84Z"/><circle class="o" cx="642" cy="490" r="2.3"/>
<circle class="B" cx="653.3" cy="479.3" r="5.7"/><path class="wr" d="M653.3,479.3L653.3,473.6A5.7 5.7 0 0 1 659,479.3Z"/><path class="wy" d="M653.3,479.3L647.6,479.3A5.7 5.7 0 0 1 653.3,473.6Z"/><circle class="o" cx="653.3" cy="479.3" r="5.7"/>
<circle class="r" cx="658.7" cy="439.3" r="1.3"/><circle class="r" cx="662.7" cy="451.7" r="1.3"/><circle class="R" cx="656.7" cy="464" r="2.7"/>
<path class="ln" d="M588.7,508.3H592.7"/><text class="sc" x="596.7" y="510" style="font-size:5.2px">0.05 substitutions/site</text>
</g>

<!-- Legend -->
<g id="legend">
<rect x="190.7" y="553" width="16" height="12" style="fill:#2040ff;stroke:#333;stroke-width:.5"/>
<text class="lt" x="209.5" y="563" style="font-style:italic">M. domesticus</text>
<rect x="292.7" y="553" width="16" height="12" style="fill:#ee0000;stroke:#333;stroke-width:.5"/>
<text class="lt" x="313.7" y="563" style="font-style:italic">M. musculus</text>
<rect x="364.7" y="553" width="16" height="12" style="fill:#ffff00;stroke:#333;stroke-width:.5"/>
<text class="lt" x="384.7" y="563">Laboratory strain</text>
</g>
</svg>
